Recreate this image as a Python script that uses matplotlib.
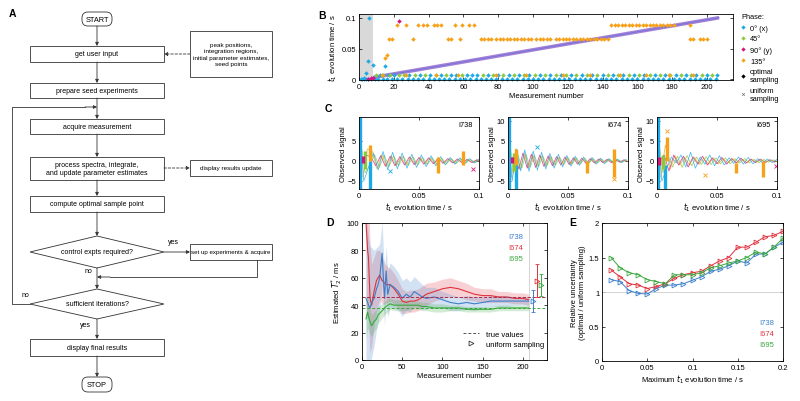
import numpy as np
import matplotlib
matplotlib.use('Agg')
import matplotlib.pyplot as plt
from matplotlib.patches import Rectangle, Polygon, FancyBboxPatch
from matplotlib.lines import Line2D

plt.rcParams['font.family'] = ['Liberation Sans', 'DejaVu Sans']
plt.rcParams['font.size'] = 5.5
plt.rcParams['mathtext.default'] = 'it'

# ---------------- data ----------------
phase_names = ['0° (x)', '45°', '90° (y)', '135°']
phase_cols = ['#1ca9e6', '#8cc83c', '#d4157f', '#f7a11a']

# panel B: sampled t1 times per phase (level values + measurement numbers)
b_low, b_mid, b_high = 0.007, 0.065, 0.088
b0_zero_n = [1, 2, 3, 4, 5, 7, 9, 11, 14, 16, 19, 22, 25, 28, 31, 34, 37, 40, 43, 46, 49, 52, 55, 58,
             61, 64, 67, 70, 73, 76, 79, 82, 85, 88, 91, 94, 97, 100, 103, 106, 109, 112, 115, 118,
             121, 124, 127, 130, 133, 136, 139, 142, 145, 148, 151, 154, 157, 160, 163, 166, 169,
             172, 175, 178, 181, 184, 187, 190, 193, 196, 199, 202, 205]
b0_low_n = [12, 17, 20, 29, 35, 41, 47, 53, 56, 62, 65, 68, 74, 80, 86, 92, 98, 104, 110, 116, 122,
            128, 134, 140, 146, 152, 158, 164, 170, 176, 182, 188, 194, 200, 206]
b0_extra_n = [3, 4, 5, 6, 8, 15]
b0_extra_t = [0.003, 0.01, 0.03, 0.1, 0.023, 0.022]
b45_low_n = [10, 14, 18, 23, 26, 32, 38, 44, 50, 59, 71, 77, 83, 89, 95, 101, 107, 113, 119, 125,
             131, 137, 143, 149, 155, 161, 167, 173, 179, 185, 191, 197, 203]
b90_n = [5, 7, 8, 23]
b90_t = [0.001, 0.002, 0.003, 0.095]
b135_low_n = [13, 27, 44, 57, 79, 96, 117, 133, 150, 165, 178, 192]
b135_mid_n = [17, 19, 31, 51, 53, 58, 70, 72, 74, 76, 79, 81, 83, 85, 87, 89, 91, 93, 95, 97, 99,
              102, 104, 106, 108, 110, 113, 115, 117, 119, 121, 123, 125, 127, 129, 131, 133, 135,
              137, 139, 141, 143, 190, 192, 196, 198, 200]
b135_high_n = [22, 27, 34, 37, 39, 43, 45, 47, 55, 59, 63, 66, 145, 147, 149, 151, 153, 155, 157,
               159, 161, 163, 165, 167, 169, 171, 173, 175, 177, 179, 181, 190]
b135_extra_n = [15, 16]
b135_extra_t = [0.035, 0.04]
b_uniform_n = [8, 207]
b_uniform_t = [0.003, 0.1]
b_seed_end = 8

# panel C: fitted signal extrema (time, value) per phase, and data clusters
c_t = [0, .004, .008, .012, .016, .020, .024, .028, .032, .036, .040, .044, .048, .052, .056,
       .060, .064, .068, .072, .076, .080, .084, .088, .092, .096, .100]
c2_t = [0, .0035, .007, .0105, .014, .0175, .021, .0245, .028, .0315, .035, .0385, .042, .0455,
        .049, .0525, .056, .0595, .063, .0665, .07, .0735, .077, .0805, .084, .0875, .091, .0945,
        .098]
c_shift = [0.0, 0.001, 0.002, 0.003]
c1_fit = [
    [9, -5, -1.5, 2.0, -2.2, 2.4, -2.2, 2.2, -2.0, 2.0, -1.8, 1.7, -1.6, 1.5, -1.4, 1.3, -1.2, 1.1,
     -1.0, 0.9, -0.8, 0.8, -0.7, 0.6, -0.5, 0.5],
    [6, -3, -1.2, 1.6, -1.6, 1.5, -1.4, 1.3, -1.2, 1.2, -1.1, 1.0, -1.0, 0.9, -0.9, 0.8, -0.8, 0.7,
     -0.7, 0.6, -0.6, 0.5, -0.5, 0.4, -0.4, 0.3],
    [0, 1.5, 1.0, -1.2, 1.3, -1.3, 1.2, -1.2, 1.1, -1.0, 1.0, -0.9, 0.9, -0.8, 0.8, -0.7, 0.7, -0.6,
     0.6, -0.5, 0.5, -0.5, 0.4, -0.4, 0.3, -0.3],
    [-4, 3, 2.5, -2.0, 1.6, -1.4, 1.3, -1.2, 1.1, -1.0, 0.9, -0.9, 0.8, -0.7, 0.7, -0.6, 0.6, -0.5,
     0.5, -0.5, 0.4, -0.4, 0.3, -0.3, 0.3, -0.2]]
c2_fit = [
    [9, -5, 3, -2.5, 2.8, -2.6, 2.5, -2.3, 2.2, -2.0, 1.9, -1.8, 1.7, -1.5, 1.4, -1.3, 1.2, -1.1,
     1.0, -0.9, 0.9, -0.8, 0.7, -0.7, 0.6, -0.5, 0.5, -0.4, 0.4],
    [6, -3, 2.0, -1.8, 1.7, -1.6, 1.5, -1.4, 1.3, -1.2, 1.1, -1.1, 1.0, -0.9, 0.9, -0.8, 0.8, -0.7,
     0.7, -0.6, 0.6, -0.5, 0.5, -0.4, 0.4, -0.4, 0.3, -0.3, 0.3],
    [0, 1.5, -2, 2, -1.8, 1.7, -1.6, 1.5, -1.4, 1.3, -1.2, 1.1, -1.0, 1.0, -0.9, 0.8, -0.8, 0.7,
     -0.6, 0.6, -0.5, 0.5, -0.4, 0.4, -0.4, 0.3, -0.3, 0.3, -0.2],
    [-4, 3, -2.2, 1.9, -1.7, 1.5, -1.4, 1.3, -1.2, 1.1, -1.0, 1.0, -0.9, 0.8, -0.8, 0.7, -0.7, 0.6,
     -0.6, 0.5, -0.5, 0.4, -0.4, 0.4, -0.3, 0.3, -0.3, 0.2, -0.2]]
c3_fit = [
    [9, -5, -2, 1.0, -0.5, 1.5, -1.5, 2.2, -1.8, 1.0, -0.8, 1.5, -1.2, 1.3, -1.0, 0.8, -0.6, 1.0,
     -0.8, 0.9, -0.7, 0.6, -0.5, 0.5, -0.4, 0.4],
    [6, -3, 1.5, -1.5, 1.2, -1.6, 1.4, -1.2, 1.0, -0.9, 1.1, -0.9, 0.8, -0.7, 0.8, -0.7, 0.6, -0.5,
     0.6, -0.5, 0.4, -0.4, 0.4, -0.3, 0.3, -0.3],
    [0, 1.5, -2.5, 1.5, -1.0, 1.2, -1.5, 1.0, -0.8, 1.2, -1.0, 0.8, -0.7, 0.9, -0.8, 0.6, -0.5, 0.7,
     -0.6, 0.5, -0.4, 0.5, -0.4, 0.3, -0.3, 0.3],
    [-4, 4, -2, 1.3, -1.0, 0.9, -1.0, 1.0, -0.8, 0.7, -0.8, 0.8, -0.7, 0.6, -0.5, 0.6, -0.5, 0.4,
     -0.4, 0.4, -0.3, 0.3, -0.3, 0.3, -0.2, 0.2]]
# clusters of observed points: phase index, time, low, high
c1_cl_phase = [0, 0, 1, 2, 3, 3, 3]
c1_cl_t = [0.0008, 0.009, 0.005, 0.003, 0.009, 0.066, 0.087]
c1_cl_lo = [-7, -7, -2, -0.5, 0, -3, -1]
c1_cl_hi = [11, 0, 2.5, 1.2, 4, 1, 2.5]
c2_cl_phase = [0, 0, 1, 2, 3, 3, 3]
c2_cl_t = [0.0008, 0.007, 0.005, 0.003, 0.007, 0.066, 0.088]
c2_cl_lo = [-7, -7, -2.5, -0.5, -1, -3, -4]
c2_cl_hi = [11, 0, 2, 1, 3, 0, 3]
c3_cl_phase = [0, 0, 1, 2, 3, 3, 3]
c3_cl_t = [0.0008, 0.007, 0.005, 0.002, 0.008, 0.066, 0.088]
c3_cl_lo = [-7, -7, -2, -1, 0, -3, -4]
c3_cl_hi = [11, -1, 1.5, 1, 6, -0.5, 0]
c1_pt = ([0, 2], [0.026, 0.095], [-2.6, -2.0])
c2_pt = ([0, 3], [0.024, 0.088], [3.5, -4.5])
c3_pt = ([3, 3, 2], [0.008, 0.040, 0.099], [7.5, -3.5, -1.2])
c_names = ['I738', 'I674', 'I695']

# panel D: running estimates with confidence bands
d_n = [5, 7, 8, 10, 12, 15, 18, 20, 22, 25, 27, 28, 30, 32, 35, 40, 45, 50, 55, 60, 65, 70, 75,
       80, 90, 100, 110, 120, 130, 140, 150, 160, 170, 180, 190, 200, 207]
d_est = [
    [45, 42, 40, 38, 42, 45, 52, 55, 60, 78, 55, 45, 65, 48, 55, 53, 50, 45, 48, 46, 50, 48, 46,
     45, 46, 44, 42, 41, 42, 41, 42, 43, 43, 43, 43, 43, 43],
    [100, 80, 75, 45, 40, 50, 58, 60, 62, 58, 57, 56, 55, 55, 55, 52, 48, 43, 42, 43, 43, 44, 46,
     48, 50, 52, 53, 52, 50, 48, 47, 47, 46, 46, 45, 45, 44],
    [30, 35, 32, 28, 25, 28, 30, 33, 34, 36, 37, 38, 39, 40, 41, 40, 40, 40, 40, 40, 40, 40, 39,
     39, 38, 38, 38, 38, 37, 37, 37, 37, 38, 38, 38, 38, 38]]
d_err = [
    [60, 55, 50, 45, 40, 35, 30, 28, 25, 22, 20, 20, 18, 17, 16, 15, 14, 13, 12, 11, 11, 10, 9, 8,
     7, 6, 6, 5, 5, 5, 4, 4, 4, 4, 3, 3, 3],
    [60, 50, 45, 40, 30, 25, 22, 20, 18, 17, 16, 15, 14, 13, 12, 11, 10, 9, 8, 8, 8, 8, 8, 8, 7, 7,
     7, 6, 6, 5, 5, 5, 4, 4, 4, 4, 4],
    [15, 12, 10, 9, 8, 7, 7, 6, 6, 5, 5, 5, 5, 5, 4, 4, 4, 4, 4, 3, 3, 3, 3, 3, 3, 3, 2, 2, 2, 2,
     2, 2, 2, 2, 2, 2, 2]]
d_true = [46, 46, 38]
d_uni_n = [212, 218, 222]
d_uni_val = [43, 58, 55]
d_uni_err = [8, 12, 8]
d_last = 207

# panel E: relative uncertainty vs maximum t1
e_t = [0.01, 0.02, 0.03, 0.04, 0.05, 0.06, 0.07, 0.08, 0.09, 0.10, 0.11, 0.12, 0.13, 0.14, 0.15,
       0.16, 0.17, 0.18, 0.19, 0.20]
e_rel = [
    [1.18, 1.15, 1.02, 0.98, 0.97, 1.05, 1.10, 1.10, 1.12, 1.17, 1.22, 1.30, 1.33, 1.38, 1.45,
     1.42, 1.55, 1.55, 1.65, 1.72],
    [1.32, 1.22, 1.12, 1.10, 1.05, 1.08, 1.12, 1.20, 1.25, 1.28, 1.30, 1.38, 1.45, 1.50, 1.65,
     1.65, 1.72, 1.80, 1.82, 1.88],
    [1.50, 1.35, 1.28, 1.25, 1.18, 1.15, 1.12, 1.25, 1.25, 1.25, 1.28, 1.35, 1.38, 1.42, 1.45,
     1.50, 1.58, 1.55, 1.65, 1.78]]
peak_cols = ['#3b7fcb', '#e0313c', '#3aa83e']

# ---------------- figure ----------------
W, H = 800, 402
fig = plt.figure(figsize=(W / 100, H / 100), dpi=100)


def px_axes(l, t, r, b):
    return fig.add_axes([l / W, 1 - b / H, (r - l) / W, (b - t) / H])


def style(ax):
    ax.tick_params(direction='in', length=2, width=0.5, top=True, right=True,
                   labelsize=5.5, pad=2)
    for s in ax.spines.values():
        s.set_linewidth(0.6)


# ---------- A: flowchart ----------
fa = px_axes(0, 0, 280, 402)
fa.set_xlim(0, 280)
fa.set_ylim(402, 0)
fa.axis('off')
kw = dict(lw=0.6, ec='#333333', fc='white')
fs_fc = 5.0


def box(x0, y0, x1, y1, txt, fs=fs_fc):
    fa.add_patch(Rectangle((x0, y0), x1 - x0, y1 - y0, **kw))
    fa.text((x0 + x1) / 2, (y0 + y1) / 2, txt, ha='center', va='center', fontsize=fs,
            linespacing=1.3)


def rbox(x0, y0, x1, y1, txt):
    fa.add_patch(FancyBboxPatch((x0 + 5, y0), x1 - x0 - 10, y1 - y0,
                                boxstyle='round,pad=0,rounding_size=6', **kw))
    fa.text((x0 + x1) / 2, (y0 + y1) / 2, txt, ha='center', va='center', fontsize=5.3)


def diamond(x0, x1, yc, hh, txt):
    xc = (x0 + x1) / 2
    fa.add_patch(Polygon([(x0, yc), (xc, yc - hh), (x1, yc), (xc, yc + hh)], closed=True, **kw))
    fa.text(xc, yc, txt, ha='center', va='center', fontsize=fs_fc)


def arrow(x0, y0, x1, y1, ls='-'):
    fa.annotate('', xy=(x1, y1), xytext=(x0, y0),
                arrowprops=dict(arrowstyle='-|>', lw=0.6, color='#333333', ls=ls,
                                mutation_scale=5, shrinkA=0, shrinkB=0))


def seg(xs, ys):
    fa.plot(xs, ys, color='#333333', lw=0.6)


xc = 97
rbox(77, 13, 117, 27, 'START')
arrow(xc, 27, xc, 47)
box(30, 47, 164, 63, 'get user input')
arrow(xc, 63, xc, 84)
box(30, 84, 164, 99, 'prepare seed experiments')
arrow(xc, 99, xc, 120)
box(30, 120, 164, 135, 'acquire measurement')
arrow(xc, 135, xc, 158)
box(30, 158, 164, 181, 'process spectra, integrate,\nand update parameter estimates')
arrow(xc, 181, xc, 197)
box(30, 197, 164, 213, 'compute optimal sample point')
arrow(xc, 213, xc, 237)
diamond(30, 164, 253, 16, 'control expts required?')
arrow(xc, 269, xc, 290)
diamond(30, 164, 305, 15, 'sufficient iterations?')
arrow(xc, 320, xc, 340)
box(30, 340, 164, 357, 'display final results')
arrow(xc, 357, xc, 378)
rbox(77, 378, 117, 393, 'STOP')

box(190, 32, 272, 78, 'peak positions,\nintegration regions,\ninitial parameter estimates,\nseed points',
    fs=4.6)
arrow(190, 55, 164, 55, ls=(0, (3, 2)))
box(190, 161, 272, 177, 'display results update', fs=4.6)
arrow(164, 169, 190, 169, ls=(0, (3, 2)))
box(190, 245, 272, 261, 'set up experiments & acquire', fs=4.4)
arrow(164, 253, 190, 253)
fa.text(168, 246, 'yes', fontsize=fs_fc, ha='left', va='bottom')
seg([257, 257, 110], [261, 278, 278])
arrow(110, 278, xc, 278)
fa.text(88, 275, 'no', fontsize=fs_fc, ha='center', va='bottom')
seg([30, 12, 12, 85], [305, 305, 108, 108])
arrow(85, 108, xc, 108)
fa.text(25, 299, 'no', fontsize=fs_fc, ha='center', va='bottom')
fa.text(85, 329, 'yes', fontsize=fs_fc, ha='center', va='bottom')
fa.text(12, 14, 'A', fontsize=7.5, fontweight='bold', ha='center', va='center')

# ---------- B ----------
ax = px_axes(359, 15, 733, 81)
style(ax)
ax.axvspan(0, b_seed_end, color='#d9d9d9', lw=0)
ax.plot(b_uniform_n, b_uniform_t, color='#a67fd6', lw=2.6, solid_capstyle='butt')
ax.plot(b_uniform_n, b_uniform_t, color='#6f77d9', lw=0.7)
mk = dict(ls='none', marker='D', ms=2.3, mew=0, clip_on=False)
ax.plot(b0_zero_n, np.zeros(len(b0_zero_n)), color=phase_cols[0], **mk)
ax.plot(b0_low_n, np.full(len(b0_low_n), b_low), color=phase_cols[0], **mk)
ax.plot(b0_extra_n, b0_extra_t, color=phase_cols[0], **mk)
ax.plot(b45_low_n, np.full(len(b45_low_n), b_low), color=phase_cols[1], **mk)
ax.plot(b90_n, b90_t, color=phase_cols[2], **mk)
ax.plot(b135_low_n, np.full(len(b135_low_n), b_low), color=phase_cols[3], **mk)
ax.plot(b135_mid_n, np.full(len(b135_mid_n), b_mid), color=phase_cols[3], **mk)
ax.plot(b135_high_n, np.full(len(b135_high_n), b_high), color=phase_cols[3], **mk)
ax.plot(b135_extra_n, b135_extra_t, color=phase_cols[3], **mk)
ax.set_xlim(0, 215)
ax.set_ylim(-0.001, 0.106)
ax.set_xticks(range(0, 201, 20))
ax.set_yticks([0, 0.05, 0.1])
ax.set_yticklabels(['0', '0.05', '0.1'])
ax.set_xlabel('Measurement number', fontsize=5.5, labelpad=1.5)
ax.set_ylabel('$t_1$ evolution time / s', fontsize=5.5, labelpad=2)
handles = [Line2D([], [], ls='none', marker='D', ms=2.2, mew=0, color=c) for c in phase_cols]
handles += [Line2D([], [], ls='none', marker='D', ms=2.2, mew=0, color='k'),
            Line2D([], [], ls='none', marker='x', ms=2, mew=0.5, color='#777777')]
leg = ax.legend(handles, phase_names + ['optimal\nsampling', 'uniform\nsampling'],
                title='Phase:', loc='upper left', bbox_to_anchor=(1.01, 1.08), frameon=False,
                fontsize=5.3, title_fontsize=5.3, handlelength=0.6, handletextpad=0.6,
                labelspacing=0.5, borderaxespad=0.2)
leg._legend_box.align = 'left'
fig.text(322 / W, 1 - 16 / H, 'B', fontsize=7.5, fontweight='bold', ha='center', va='center')

# ---------- C ----------
c_specs = [(359, c_t, c1_fit, c1_cl_phase, c1_cl_t, c1_cl_lo, c1_cl_hi, c1_pt),
           (508, c2_t, c2_fit, c2_cl_phase, c2_cl_t, c2_cl_lo, c2_cl_hi, c2_pt),
           (657, c_t, c3_fit, c3_cl_phase, c3_cl_t, c3_cl_lo, c3_cl_hi, c3_pt)]
fit_order = [3, 2, 1, 0]
for k, (l, tt, fits, clp, clt, cllo, clhi, pts) in enumerate(c_specs):
    ax = px_axes(l, 118, l + 120, 190)
    style(ax)
    for p in fit_order:
        ax.plot(np.array(tt) + c_shift[p], fits[p], color=phase_cols[p], lw=0.55, alpha=0.8)
    for p, t0, lo, hi in zip(clp, clt, cllo, clhi):
        ax.vlines(t0, lo, hi, color=phase_cols[p], lw=2.4)
    for p, t0, y0 in zip(*pts):
        ax.plot(t0, y0, ls='none', marker='x', ms=2.5, mew=0.6, color=phase_cols[p])
    ax.set_xlim(0, 0.1)
    ax.set_ylim(-7, 11)
    ax.set_xticks([0, 0.05, 0.1])
    ax.set_xticklabels(['0', '0.05', '0.1'])
    ax.set_yticks([-5, 0, 5] if k == 0 else [-5, 0, 5, 10])
    ax.set_xlabel('$t_1$ evolution time / s', fontsize=5.5, labelpad=1.5)
    ax.set_ylabel('Observed signal', fontsize=5.5, labelpad=0.5)
    ax.text(0.95, 0.9, c_names[k], transform=ax.transAxes, ha='right', va='center',
            fontsize=5.3)
fig.text(328 / W, 1 - 109 / H, 'C', fontsize=7.5, fontweight='bold', ha='center', va='center')

# ---------- D ----------
ax = px_axes(362, 224, 547, 361)
style(ax)
ax.axvline(d_last, color='#cccccc', lw=0.6)
for i in [1, 0, 2]:
    est = np.array(d_est[i])
    err = np.array(d_err[i])
    ax.fill_between(d_n, est - err, est + err, color=peak_cols[i], alpha=0.22, lw=0)
for i in [1, 0, 2]:
    ax.plot(d_n, d_est[i], color=peak_cols[i], lw=0.8)
true_cols = ['#5a4a8a', '#b0304a', '#3aa83e']
for i in range(3):
    ax.axhline(d_true[i], color=true_cols[i], lw=0.7, ls=(0, (3, 2)))
for i in range(3):
    ax.errorbar(d_uni_n[i], d_uni_val[i], yerr=d_uni_err[i], color=peak_cols[i], lw=0.7,
                capsize=1.5, capthick=0.6, marker='>', ms=3.5, mfc='none', mew=0.6)
ax.set_xlim(0, 230)
ax.set_ylim(0, 100)
ax.set_xticks([0, 50, 100, 150, 200])
ax.set_yticks([0, 20, 40, 60, 80, 100])
ax.set_xlabel('Measurement number', fontsize=5.5, labelpad=1.5)
ax.set_ylabel('Estimated $T_2^{*}$ / ms', fontsize=5.5, labelpad=2)
for i in range(3):
    ax.text(0.87, 0.9 - i * 0.08, c_names[i], transform=ax.transAxes, color=peak_cols[i],
            ha='right', va='center', fontsize=5.5)
lh = [Line2D([], [], color='#555555', lw=0.7, ls=(0, (3, 2))),
      Line2D([], [], ls='none', marker='>', ms=3.5, mfc='none', mec='#333333', mew=0.6)]
ax.legend(lh, ['true values', 'uniform sampling'], loc='lower right', frameon=False,
          fontsize=5.5, handlelength=2.2, labelspacing=0.3, bbox_to_anchor=(1.02, 0.04))
fig.text(330 / W, 1 - 223 / H, 'D', fontsize=7.5, fontweight='bold', ha='center', va='center')

# ---------- E ----------
ax = px_axes(602, 224, 783, 362)
style(ax)
ax.axhline(1, color='#cccccc', lw=0.6)
for i in range(3):
    ax.plot(e_t, e_rel[i], color=peak_cols[i], lw=0.7, marker='>', ms=3.5, mfc='none', mew=0.6)
ax.set_xlim(0, 0.2)
ax.set_ylim(0, 2)
ax.set_xticks([0, 0.05, 0.1, 0.15, 0.2])
ax.set_xticklabels(['0', '0.05', '0.1', '0.15', '0.2'])
ax.set_yticks([0, 0.5, 1, 1.5, 2])
ax.set_yticklabels(['0', '0.5', '1', '1.5', '2'])
ax.set_xlabel('Maximum $t_1$ evolution time / s', fontsize=5.5, labelpad=1.5)
ax.set_ylabel('Relative uncertainty\n(optimal / uniform sampling)', fontsize=5.5, labelpad=2)
for i in range(3):
    ax.text(0.95, 0.28 - i * 0.08, c_names[i], transform=ax.transAxes, color=peak_cols[i],
            ha='right', va='center', fontsize=5.5)
fig.text(573 / W, 1 - 223 / H, 'E', fontsize=7.5, fontweight='bold', ha='center', va='center')

fig.savefig('out.png', dpi=100, facecolor='white')
